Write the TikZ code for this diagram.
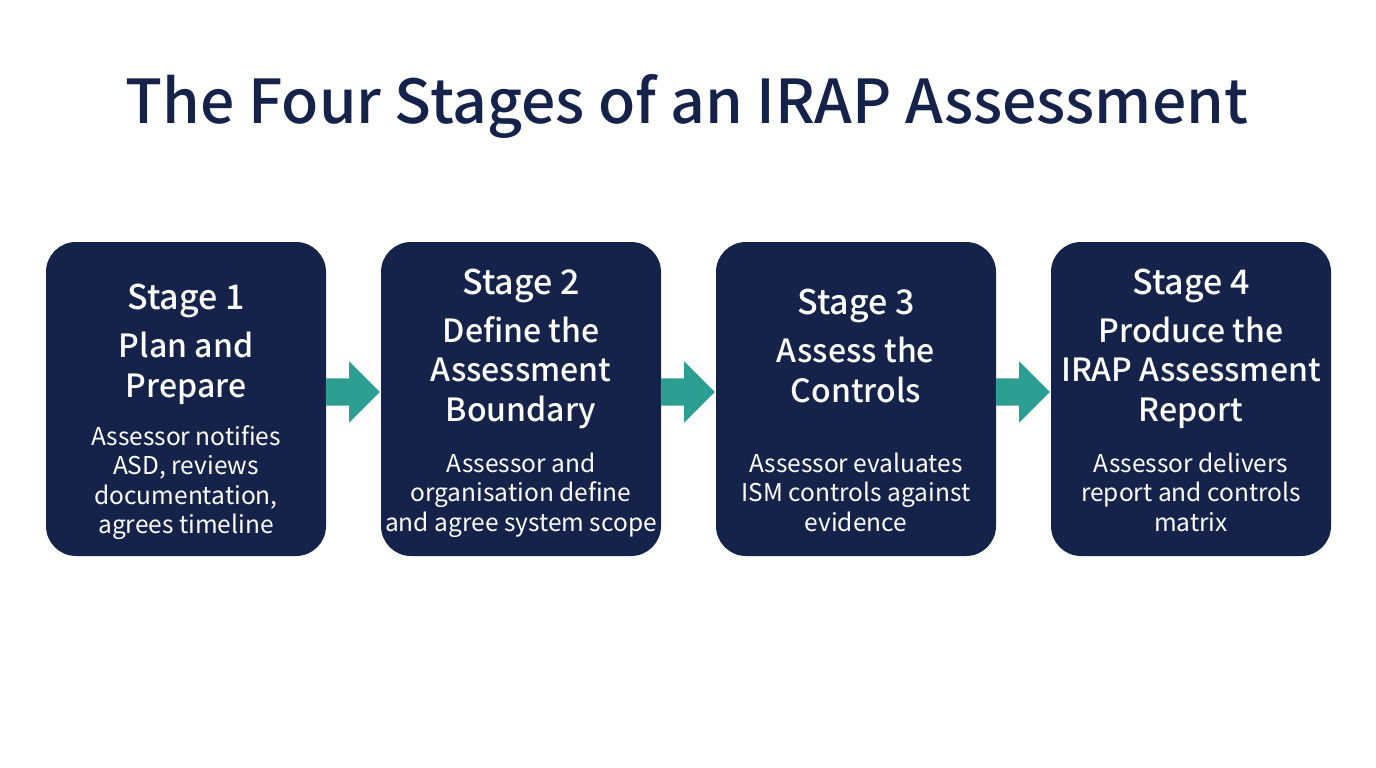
\documentclass[tikz,border=0pt]{standalone}
\usepackage{fontspec}
\setmainfont{Noto Sans CJK SC}
\newfontfamily\medfont{Noto Sans CJK SC Medium}
\usetikzlibrary{positioning,shapes.arrows}
\definecolor{navy}{HTML}{15234B}
\definecolor{teal}{HTML}{2D9E92}
\tikzset{
  stagebox/.style={fill=navy,rounded corners=30pt,minimum width=280pt,minimum height=314pt,inner sep=0pt},
  stagehead/.style={text=white,font=\medfont\fontsize{34}{39.5}\selectfont,align=center},
  stagename/.style={text=white,font=\medfont\fontsize{32}{39.5}\selectfont,align=center},
  stagebody/.style={text=white,font=\fontsize{24.5}{29.5}\selectfont,align=center},
  stagearrow/.style={fill=teal,single arrow,single arrow head extend=17pt,minimum height=54pt,minimum width=61pt,inner sep=13.5pt}
}
\begin{document}
\begin{tikzpicture}[x=1pt,y=-1pt]
\useasboundingbox (0,0) rectangle (1376,768);
\node[text=navy,font=\medfont\fontsize{60.6}{66}\selectfont] (title) at (687,106.5) {The Four Stages of an IRAP Assessment};
\node[stagebox] (box1) at (186,399) {};
\node[stagebox] (box2) at (521,399) {};
\node[stagebox] (box3) at (856,399) {};
\node[stagebox] (box4) at (1191,399) {};
\node[stagearrow] (arrow1) at (346,392) {};
\node[stagearrow] (arrow2) at (681,392) {};
\node[stagearrow] (arrow3) at (1016,392) {};
% stage 1
\node[stagehead] (head1) at (186,301) {Stage 1};
\node[stagename] (name1) at (186,368.5) {Plan and\\Prepare};
\node[stagebody] (text1) at (186,482.5) {Assessor notifies\\ASD, reviews\\documentation,\\agrees timeline};
% stage 2
\node[stagehead] (head2) at (521,286) {Stage 2};
\node[stagename] (name2) at (521,372.5) {Define the\\Assessment\\Boundary};
\node[stagebody] (text2) at (521,495) {Assessor and\\organisation define\\and agree system scope};
% stage 3
\node[stagehead] (head3) at (856,306) {Stage 3};
\node[stagename] (name3) at (856,370) {Assess the\\Controls};
\node[stagebody] (text3) at (856,492) {Assessor evaluates\\ISM controls against\\evidence};
% stage 4
\node[stagehead] (head4) at (1191,286) {Stage 4};
\node[stagename] (name4) at (1191,372.5) {Produce the\\IRAP Assessment\\Report};
\node[stagebody] (text4) at (1191,492) {Assessor delivers\\report and controls\\matrix};
\end{tikzpicture}
\end{document}
